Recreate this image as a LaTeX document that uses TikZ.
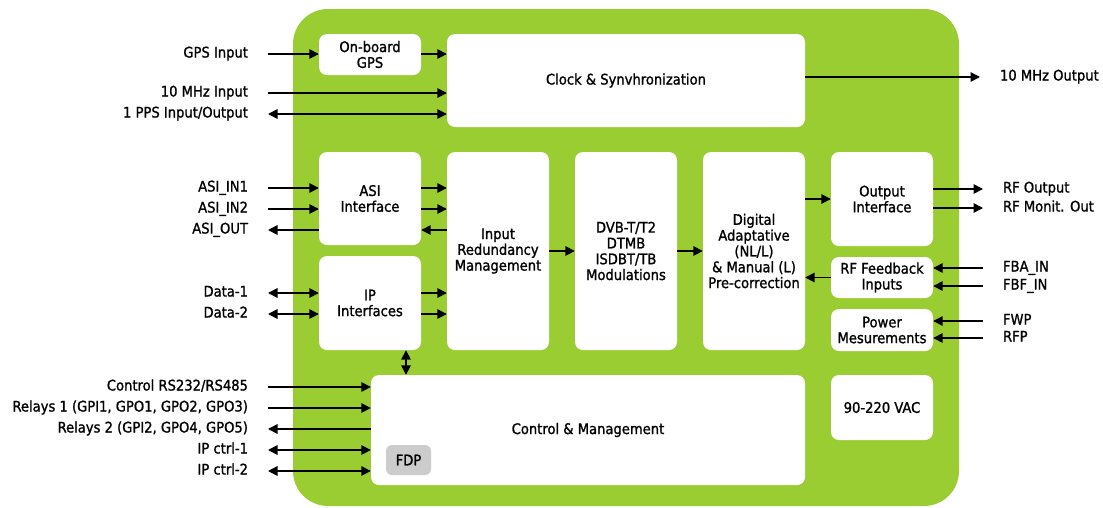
\documentclass[tikz,border=0pt]{standalone}
\usepackage{fontspec}
\setmainfont{DejaVu Sans Condensed}[BoldFont={DejaVu Sans Condensed},BoldFeatures={FakeBold=1.2}]
\usetikzlibrary{arrows.meta}
\definecolor{panelgreen}{RGB}{154,205,50}
\definecolor{fdpgray}{RGB}{204,204,204}
\tikzset{
  blk/.style={draw=none,fill=white,rounded corners=8pt,align=center,inner sep=0pt},
  lin/.style={anchor=east,inner xsep=0pt,outer xsep=20pt,text height=10pt,text depth=3pt},
  lout/.style={anchor=west,inner xsep=0pt,outer xsep=20pt,text height=10pt,text depth=3pt},
  arr/.style={line width=1.6pt,-{Triangle[length=9.5pt,width=9.5pt]}},
  arrb/.style={line width=1.6pt,{Triangle[length=9.5pt,width=9.5pt]}-{Triangle[length=9.5pt,width=9.5pt]}}
}
\begin{document}
\begin{tikzpicture}[x=1pt,y=-1pt,font=\fontsize{14.6}{15.8}\selectfont\bfseries]
\useasboundingbox (0,0) rectangle (1103,507);
\fill[panelgreen,rounded corners=35pt] (293,9) rectangle (959,506);
\node[blk,minimum width=102pt,minimum height=41pt] (gps) at (370,54.5) {On-board\\GPS};
\node[blk,minimum width=358pt,minimum height=93pt] (clk) at (626,80.5) {Clock \& Synvhronization};
\node[blk,minimum width=102pt,minimum height=93pt] (asi) at (370,198.5) {ASI\\Interface};
\node[blk,minimum width=102pt,minimum height=94pt] (ip) at (370,303) {IP\\Interfaces};
\node[blk,minimum width=102pt,minimum height=198pt] (irm) at (498,251) {Input\\Redundancy\\Management};
\node[blk,minimum width=102pt,minimum height=198pt] (mod) at (626,251) {DVB-T/T2\\DTMB\\ISDBT/TB\\Modulations};
\node[blk,minimum width=102pt,minimum height=198pt] (dpd) at (754,251) {Digital\\Adaptative\\(NL/L)\\\& Manual (L)\\Pre-correction};
\node[blk,minimum width=102pt,minimum height=94pt] (outif) at (882,199) {Output\\Interface};
\node[blk,minimum width=102pt,minimum height=41pt] (rffb) at (882,277.5) {RF Feedback\\Inputs};
\node[blk,minimum width=102pt,minimum height=42pt] (pwr) at (882,330) {Power\\Mesurements};
\node[blk,minimum width=434pt,minimum height=110pt] (ctrl) at (588,430) {Control \& Management};
\node[blk,minimum width=102pt,minimum height=65pt] (vac) at (882,407.5) {90-220 VAC};
\node[blk,fill=fdpgray,minimum width=45pt,minimum height=30pt,rounded corners=6pt] (fdp) at (408.5,460) {FDP};

\node[lin] (gpsin) at (268,54) {GPS Input};
\node[lin] (mhzin) at (268,93) {10 MHz Input};
\node[lin] (pps) at (268,114) {1 PPS Input/Output};
\node[lin] (asi1) at (268,188) {ASI\_IN1};
\node[lin] (asi2) at (268,209) {ASI\_IN2};
\node[lin] (asiout) at (268,230) {ASI\_OUT};
\node[lin] (data1) at (268,293) {Data-1};
\node[lin] (data2) at (268,314) {Data-2};
\node[lin] (rs) at (268,387) {Control RS232/RS485};
\node[lin] (rel1) at (268,408) {Relays 1 (GPI1, GPO1, GPO2, GPO3)};
\node[lin] (rel2) at (268,429) {Relays 2 (GPI2, GPO4, GPO5)};
\node[lin] (ipc1) at (268,450) {IP ctrl-1};
\node[lin] (ipc2) at (268,471) {IP ctrl-2};
\node[lout] (mhzout) at (980,77) {10 MHz Output};
\node[lout] (rfout) at (983,189) {RF Output};
\node[lout] (rfmon) at (983,208) {RF Monit. Out};
\node[lout] (fba) at (983,268) {FBA\_IN};
\node[lout] (fbf) at (983,286) {FBF\_IN};
\node[lout] (fwp) at (983,321) {FWP};
\node[lout] (rfp) at (983,338) {RFP};

\draw[arr] (gpsin.east) -- (gps.west |- gpsin.east);
\draw[arr] (gps.east |- gpsin.east) -- (clk.west |- gpsin.east);
\draw[arr] (mhzin.east) -- (clk.west |- mhzin.east);
\draw[arrb] (pps.east) -- (clk.west |- pps.east);
\draw[arr] (clk.east |- mhzout.west) -- (mhzout.west);
\draw[arr] (asi1.east) -- (asi.west |- asi1.east);
\draw[arr] (asi2.east) -- (asi.west |- asi2.east);
\draw[arr] (asi.west |- asiout.east) -- (asiout.east);
\draw[arr] (asi.east |- asi1.east) -- (irm.west |- asi1.east);
\draw[arr] (asi.east |- asi2.east) -- (irm.west |- asi2.east);
\draw[arr] (irm.west |- asiout.east) -- (asi.east |- asiout.east);
\draw[arrb] (data1.east) -- (ip.west |- data1.east);
\draw[arrb] (data2.east) -- (ip.west |- data2.east);
\draw[arr] (ip.east |- data1.east) -- (irm.west |- data1.east);
\draw[arr] (ip.east |- data2.east) -- (irm.west |- data2.east);
\draw[arrb] ([xshift=36pt]ip.south) -- ([xshift=36pt]ip.south |- ctrl.north);
\draw[arr] (rs.east) -- (ctrl.west |- rs.east);
\draw[arr] (rel1.east) -- (ctrl.west |- rel1.east);
\draw[arr] (ctrl.west |- rel2.east) -- (rel2.east);
\draw[arrb] (ipc1.east) -- (ctrl.west |- ipc1.east);
\draw[arrb] (ipc2.east) -- (ctrl.west |- ipc2.east);
\draw[arr] (irm) -- (mod);
\draw[arr] (mod) -- (dpd);
\draw[arr] (dpd.east |- outif) -- (outif.west);
\draw[arr] (rffb.west) -- (dpd.east |- rffb.west);
\draw[arr] (outif.east |- rfout.west) -- (rfout.west);
\draw[arr] (outif.east |- rfmon.west) -- (rfmon.west);
\draw[arr] (fba.west) -- (rffb.east |- fba.west);
\draw[arr] (fbf.west) -- (rffb.east |- fbf.west);
\draw[arr] (fwp.west) -- (pwr.east |- fwp.west);
\draw[arr] (rfp.west) -- (pwr.east |- rfp.west);
\end{tikzpicture}
\end{document}
